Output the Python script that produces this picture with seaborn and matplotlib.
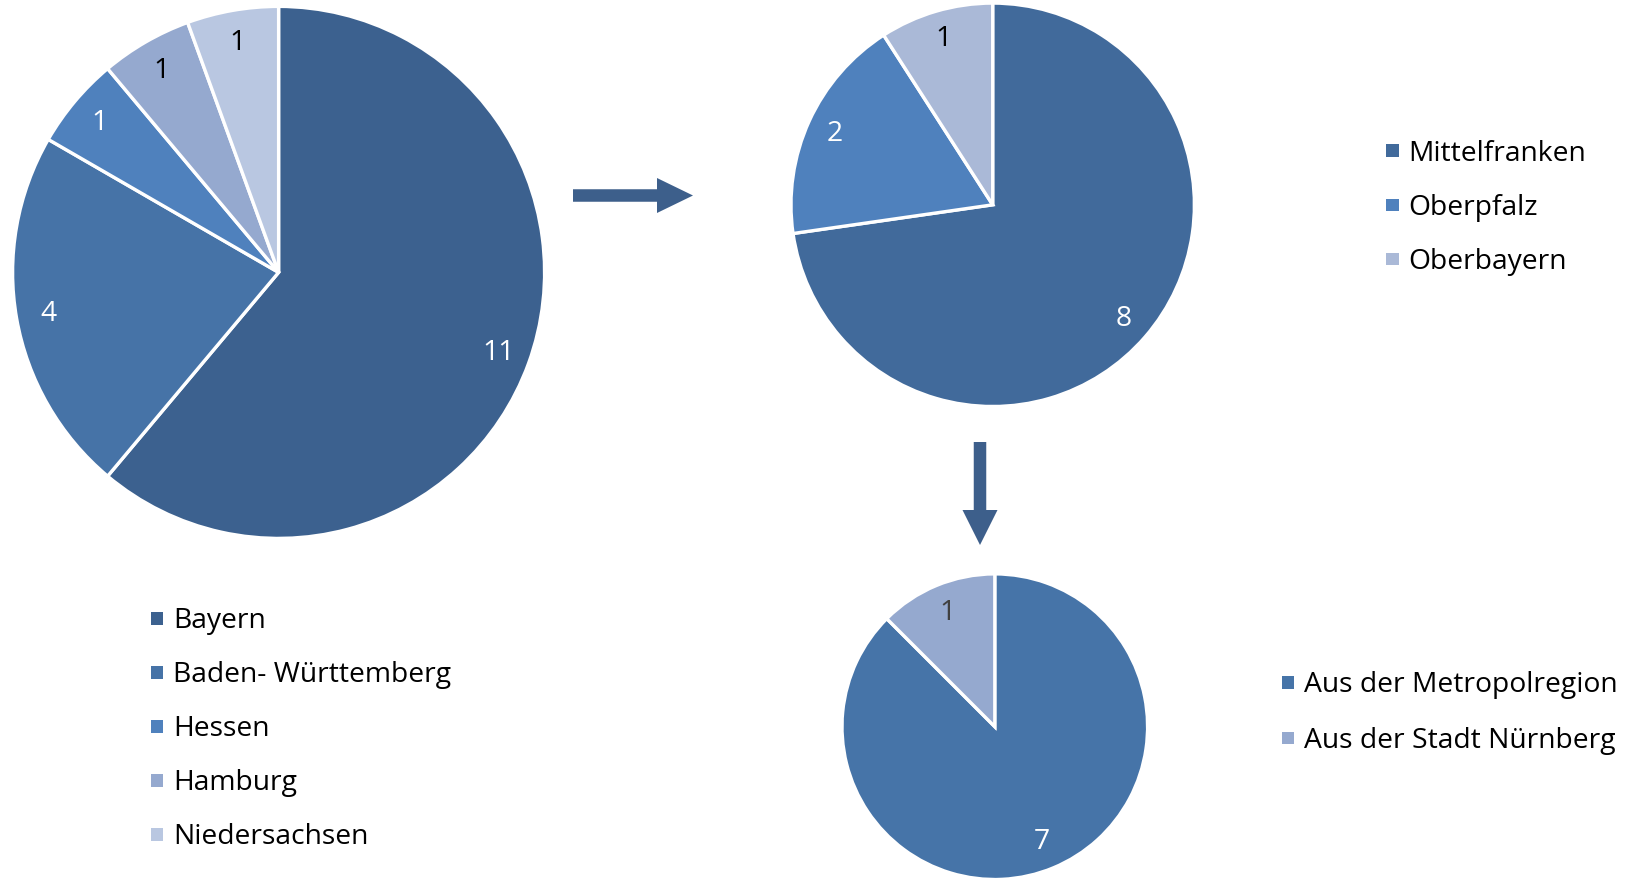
import matplotlib
matplotlib.use("Agg")
import matplotlib.pyplot as plt
from matplotlib.patches import FancyArrow, Rectangle
import seaborn as sns

# Herkunft der Teilnehmenden: Bundesland -> Regierungsbezirk -> Metropolregion
bundeslaender = ["Bayern", "Baden- Württemberg", "Hessen", "Hamburg", "Niedersachsen"]
bundeslaender_n = [11, 4, 1, 1, 1]

bezirke = ["Mittelfranken", "Oberpfalz", "Oberbayern"]
bezirke_n = [8, 2, 1]

herkunft = ["Aus der Metropolregion", "Aus der Stadt Nürnberg"]
herkunft_n = [7, 1]

# colours
farben_laender = ["#3C618F", "#4673A7", "#4F81BD", "#95A9CF", "#B9C7E1"]
farben_bezirke = ["#416A9B", "#4F81BD", "#AAB9D7"]
farben_herkunft = ["#4674A8", "#95A9CF"]
text_laender = ["white", "white", "white", "black", "black"]
text_bezirke = ["white", "white", "black"]
text_herkunft = ["white", "#404040"]
pfeil_farbe = "#3D5F8B"

sns.set_theme(style="white")
plt.rcParams["font.family"] = ["Open Sans", "DejaVu Sans"]
FS = 20.3

W, H = 1630, 879
fig = plt.figure(figsize=(W / 100, H / 100), dpi=100)
fig.patch.set_facecolor("white")

# pixel-based overlay for arrows and legends
overlay = fig.add_axes([0, 0, 1, 1])
overlay.set_xlim(0, W)
overlay.set_ylim(H, 0)
overlay.axis("off")


def pie_axes(cx, cy, r):
    return fig.add_axes([(cx - r) / W, (H - cy - r) / H, 2 * r / W, 2 * r / H])


def draw_pie(ax, values, colors, text_colors, pctdistance):
    total = sum(values)
    _, _, autotexts = ax.pie(
        values,
        colors=colors,
        startangle=90,
        counterclock=False,
        autopct=lambda p: f"{round(p * total / 100):d}",
        pctdistance=pctdistance,
        wedgeprops=dict(edgecolor="white", linewidth=2.4),
        textprops=dict(fontsize=FS),
    )
    for t, c in zip(autotexts, text_colors):
        t.set_color(c)
    ax.set_xlim(-1, 1)
    ax.set_ylim(-1, 1)
    ax.set_aspect("equal")
    ax.axis("off")


def draw_legend(x_marker, y0, pitch, labels, colors):
    for i, (lab, col) in enumerate(zip(labels, colors)):
        y = y0 + i * pitch
        overlay.add_patch(Rectangle((x_marker - 6.3, y - 6.3), 12.6, 12.6,
                                    facecolor=col, edgecolor="none"))
        overlay.text(x_marker + 16.0, y + 9.0, lab, fontsize=FS,
                     color="black", ha="left", va="baseline")


draw_pie(pie_axes(278.6, 273.4, 266), bundeslaender_n, farben_laender, text_laender, 0.88)
draw_pie(pie_axes(992.7, 205.8, 201.7), bezirke_n, farben_bezirke, text_bezirke, 0.86)
draw_pie(pie_axes(994.8, 727.7, 152.8), herkunft_n, farben_herkunft, text_herkunft, 0.81)

# arrows linking the breakdowns
overlay.add_patch(FancyArrow(573, 196.5, 120, 0, width=12.5, head_width=35,
                             head_length=36, length_includes_head=True,
                             color=pfeil_farbe, linewidth=0))
overlay.add_patch(FancyArrow(980, 443, 0, 103, width=12.5, head_width=35,
                             head_length=35, length_includes_head=True,
                             color=pfeil_farbe, linewidth=0))

draw_legend(157, 619.2, 54.0, bundeslaender, farben_laender)
draw_legend(1392.7, 151.7, 54.2, bezirke, farben_bezirke)
draw_legend(1288, 683.3, 55.5, herkunft, farben_herkunft)

fig.savefig("out.png", dpi=100, facecolor="white")
